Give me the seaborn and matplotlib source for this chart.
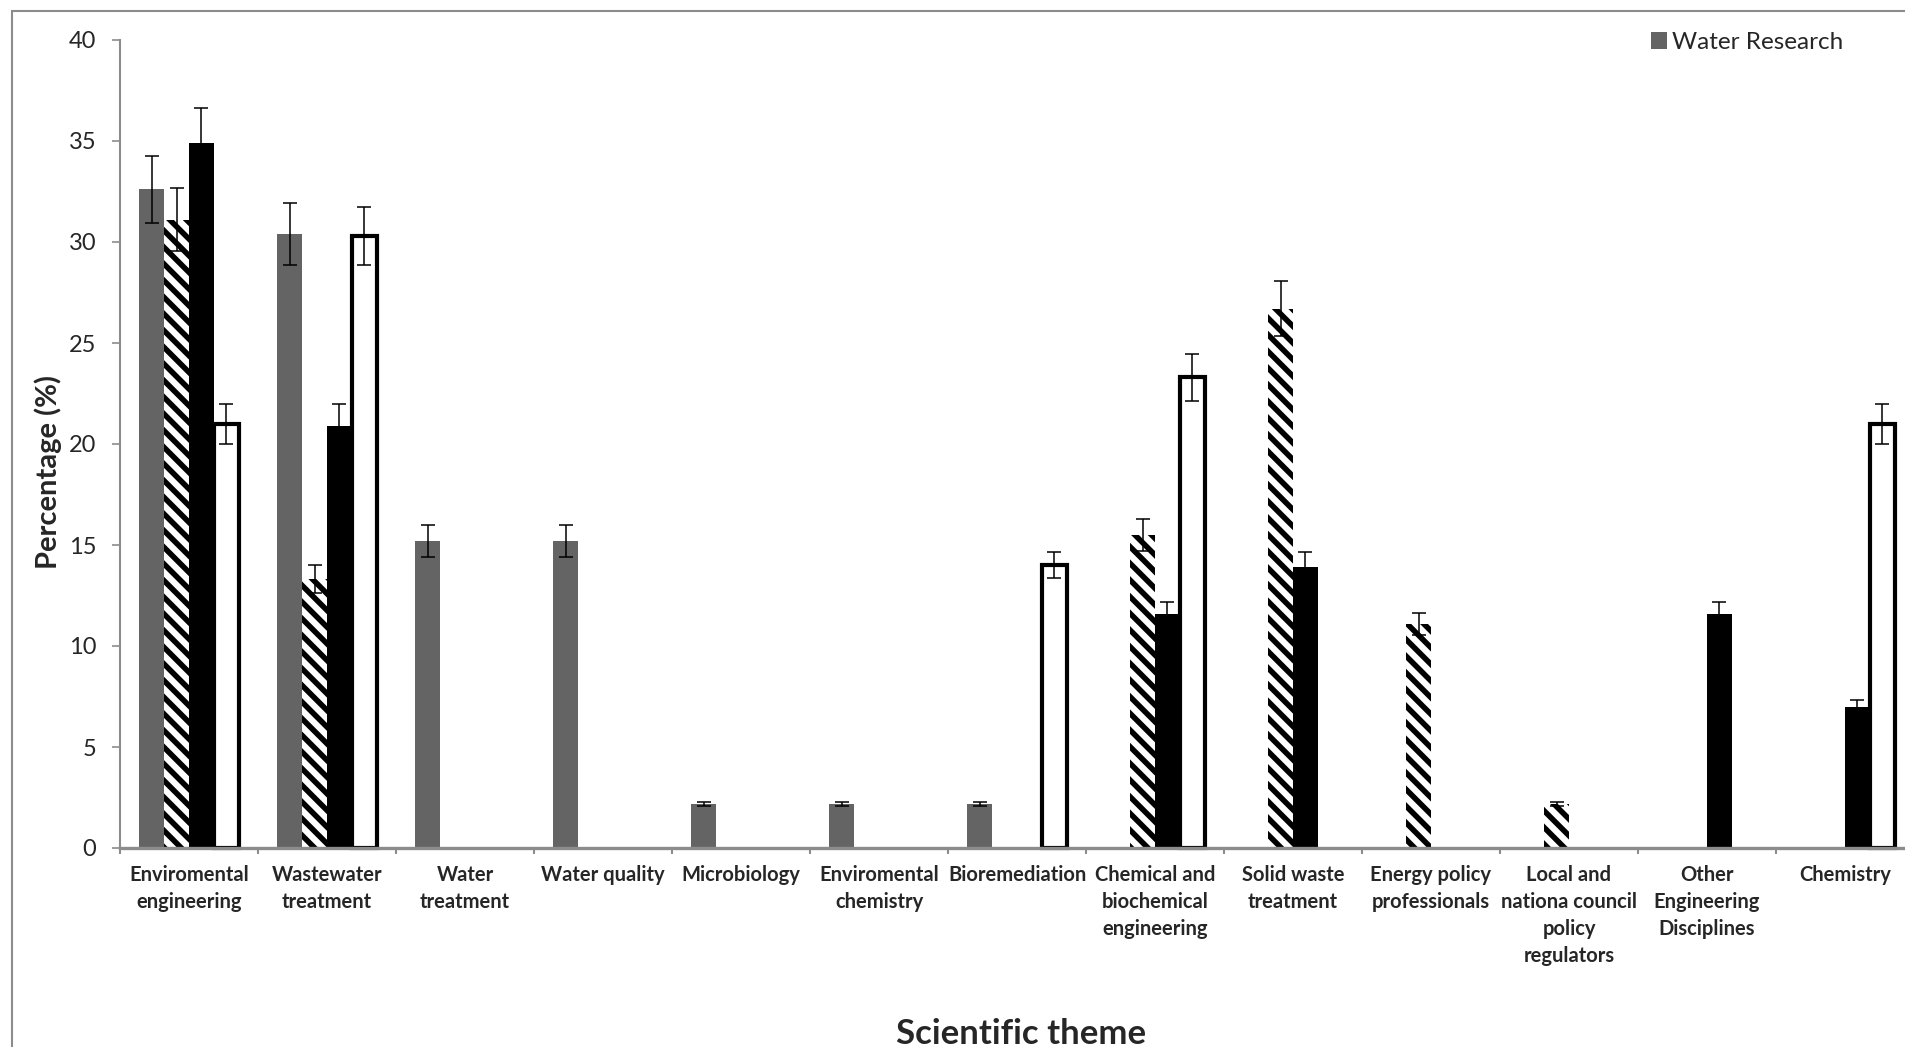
import pandas as pd
import matplotlib
matplotlib.use('Agg')
import matplotlib.pyplot as plt
import seaborn as sns
from matplotlib.patches import Patch, Rectangle
from matplotlib.ticker import FixedLocator

# Scientific themes (x categories)
themes = ['Enviromental\nengineering', 'Wastewater\ntreatment', 'Water\ntreatment',
          'Water quality', 'Microbiology', 'Enviromental\nchemistry', 'Bioremediation',
          'Chemical and\nbiochemical\nengineering', 'Solid waste\ntreatment',
          'Energy policy\nprofessionals', 'Local and\nnationa council\npolicy\nregulators',
          'Other\nEngineering\nDisciplines', 'Chemistry']

series_names = ['Water Research', 'Series 2', 'Series 3', 'Series 4']

# percentages per series
water_research = [32.6, 30.4, 15.2, 15.2, 2.2, 2.2, 2.2, 0, 0, 0, 0, 0, 0]
series_2 = [31.1, 13.3, 0, 0, 0, 0, 0, 15.5, 26.7, 11.1, 2.2, 0, 0]
series_3 = [34.9, 20.9, 0, 0, 0, 0, 0, 11.6, 13.9, 0, 0, 11.6, 7.0]
series_4 = [21.0, 30.3, 0, 0, 0, 0, 14.0, 23.3, 0, 0, 0, 0, 21.0]

# error bar half-lengths
err_water_research = [1.65, 1.55, 0.8, 0.8, 0.1, 0.1, 0.1, 0, 0, 0, 0, 0, 0]
err_series_2 = [1.55, 0.7, 0, 0, 0, 0, 0, 0.8, 1.35, 0.55, 0.1, 0, 0]
err_series_3 = [1.75, 1.1, 0, 0, 0, 0, 0, 0.6, 0.75, 0, 0, 0.6, 0.35]
err_series_4 = [1.0, 1.45, 0, 0, 0, 0, 0.65, 1.15, 0, 0, 0, 0, 1.0]

values = [water_research, series_2, series_3, series_4]
errors = [err_water_research, err_series_2, err_series_3, err_series_4]

rows = []
for name, vals in zip(series_names, values):
    for theme, v in zip(themes, vals):
        rows.append({'theme': theme, 'series': name, 'pct': v})
df = pd.DataFrame(rows)

sns.set_style('white')
plt.rcParams['font.family'] = ['Lato', 'DejaVu Sans']
plt.rcParams['hatch.linewidth'] = 4.0
plt.rcParams['hatch.color'] = 'black'

fig = plt.figure(figsize=(19.05, 10.47), dpi=100)
ax = fig.add_axes([120 / 1905, 1 - 848 / 1047, 1794 / 1905, 808 / 1047])

sns.barplot(data=df, x='theme', y='pct', hue='series', order=themes,
            hue_order=series_names, palette=['#646464', 'white', 'black', 'white'],
            saturation=1, width=0.724, errorbar=None, legend=False, ax=ax)

gray = '#8c8c8c'
bar_conts = list(ax.containers)
for i, cont in enumerate(bar_conts):
    for p in cont.patches:
        if i == 0:
            p.set_facecolor('#646464'); p.set_linewidth(0)
        elif i == 1:
            p.set_facecolor('white'); p.set_edgecolor('black')
            p.set_linewidth(0); p.set_hatch('\\\\')
        elif i == 2:
            p.set_facecolor('black'); p.set_linewidth(0)
        else:
            p.set_facecolor('white'); p.set_edgecolor('black')
            p.set_linewidth(3.0); p.set_joinstyle('miter'); p.set_clip_on(False)
        # empty cells are not drawn at all
        if p.get_height() == 0:
            p.set_visible(False)
    xs = [p.get_x() + p.get_width() / 2 for p in cont.patches]
    hs = [p.get_height() for p in cont.patches]
    keep = [k for k, e in enumerate(errors[i]) if e > 0]
    ax.errorbar([xs[k] for k in keep], [hs[k] for k in keep],
                yerr=[errors[i][k] for k in keep], fmt='none', ecolor='black',
                elinewidth=1.1, capsize=4.7, capthick=1.1, zorder=5)

ax.set_ylim(0, 40)
ax.set_xlim(-0.5, len(themes) - 0.5)
ax.set_yticks(range(0, 41, 5))
ax.tick_params(axis='y', labelsize=17, length=6, width=1.2, color=gray,
               pad=11, direction='out', left=True)
ax.tick_params(axis='x', which='major', length=0, pad=12, labelsize=14.5)
for lab in ax.get_xticklabels():
    lab.set_fontweight('bold')
    lab.set_linespacing(1.45)
ax.xaxis.set_minor_locator(FixedLocator([k - 0.5 for k in range(len(themes) + 1)]))
ax.tick_params(axis='x', which='minor', length=4.5, width=1.5, color=gray,
               direction='out', bottom=True)

sns.despine(ax=ax)
ax.spines['left'].set_color(gray)
ax.spines['left'].set_linewidth(1.5)
ax.spines['bottom'].set_color(gray)
ax.spines['bottom'].set_linewidth(2.4)

ax.set_ylabel('Percentage (%)', fontsize=21, fontweight='bold', va='center')
ax.yaxis.set_label_coords(-0.040, 0.465)
ax.set_xlabel('Scientific theme', fontsize=25, fontweight='bold', va='baseline')
ax.xaxis.set_label_coords(0.502, -0.2426)

ax.legend(handles=[Patch(facecolor='#646464', edgecolor='none')],
          labels=[series_names[0]], loc='upper left', frameon=False,
          bbox_to_anchor=(1651 / 1905, 1 - 32 / 1047), bbox_transform=fig.transFigure,
          fontsize=17.5, handlelength=0.66, handleheight=0.66, handletextpad=0.22,
          borderpad=0, borderaxespad=0)

# outer chart border
fig.patches.append(Rectangle((12 / 1905, -0.1), 1.2, 1.1 - 11 / 1047,
                             transform=fig.transFigure, fill=False,
                             edgecolor=gray, linewidth=1.5))

plt.savefig('out.png', dpi=100)
